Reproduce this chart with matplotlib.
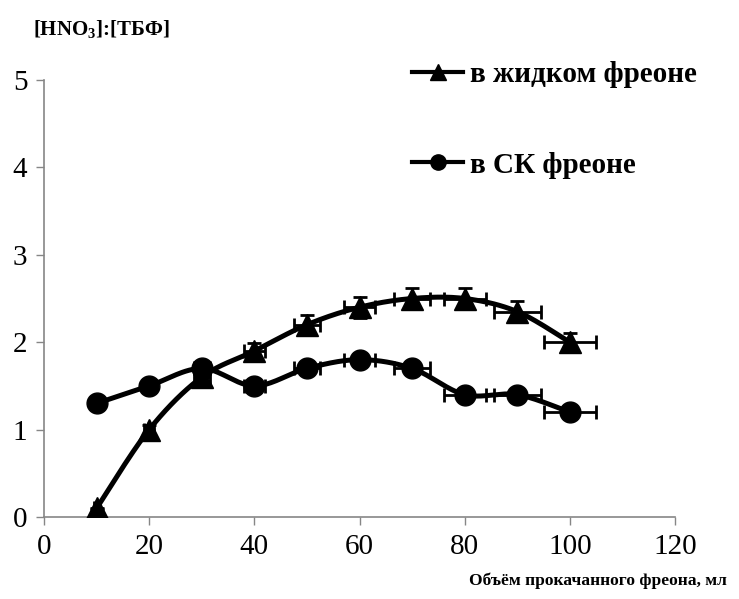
import numpy as np
import matplotlib
matplotlib.use("Agg")
import matplotlib.pyplot as plt
from matplotlib.lines import Line2D

plt.rcParams['font.family'] = ['Liberation Serif', 'DejaVu Serif']
plt.rcParams['mathtext.fontset'] = 'custom'
plt.rcParams['mathtext.rm'] = 'Liberation Serif'
plt.rcParams['mathtext.bf'] = 'Liberation Serif:bold'

# volume of pumped freon, ml
volume = [10, 20, 30, 40, 50, 60, 70, 80, 90, 100]
# liquid freon
liquid = [0.1, 1.0, 1.6, 1.9, 2.2, 2.4, 2.5, 2.5, 2.35, 2.0]
liquid_yerr = [0.005, 0.05, 0.08, 0.095, 0.11, 0.12, 0.125, 0.125, 0.12, 0.1]
# supercritical freon
sc = [1.3, 1.5, 1.7, 1.5, 1.7, 1.8, 1.7, 1.4, 1.4, 1.2]
vol_err = [0.5, 1.0, 1.5, 2.0, 2.5, 3.0, 3.5, 4.0, 4.5, 5.0]

lab_liq = "в жидком фреоне"
lab_sc = "в СК фреоне"


def smooth(x, y, n=30):
    # catmull-rom, like excel smoothed line
    p = np.column_stack([x, y]).astype(float)
    p = np.vstack([p[0], p, p[-1]])
    t = np.linspace(0, 1, n)[:, None]
    seg = []
    for i in range(1, len(p) - 2):
        p0, p1, p2, p3 = p[i - 1], p[i], p[i + 1], p[i + 2]
        c = 0.5 * (2 * p1 + (p2 - p0) * t + (2 * p0 - 5 * p1 + 4 * p2 - p3) * t ** 2
                   + (-p0 + 3 * p1 - 3 * p2 + p3) * t ** 3)
        seg.append(c if i == 1 else c[1:])
    c = np.vstack(seg)
    return c[:, 0], c[:, 1]


fig = plt.figure(figsize=(7.39, 5.99), dpi=100)
ax = fig.add_axes([44 / 739, 82 / 599, 631 / 739, 437 / 599])

ax.errorbar(volume, liquid, xerr=vol_err, yerr=liquid_yerr, fmt='none', ecolor='black',
            elinewidth=2, capsize=5, capthick=2, zorder=2)
ax.errorbar(volume, sc, xerr=vol_err, fmt='none', ecolor='black',
            elinewidth=2, capsize=5, capthick=2, zorder=2)

sx, sy = smooth(volume, liquid)
ax.plot(sx, sy, color='black', lw=3.6, zorder=3)
ax.plot(volume, liquid, ls='none', marker='^', ms=16, color='black', zorder=4)
sx, sy = smooth(volume, sc)
ax.plot(sx, sy, color='black', lw=3.6, zorder=3)
ax.plot(volume, sc, ls='none', marker='o', ms=15, color='black', zorder=4)

ax.set_xlim(0, 120)
ax.set_ylim(0, 5)
ax.set_xticks(range(0, 121, 20))
ax.set_yticks(range(0, 6))
for s in ['top', 'right']:
    ax.spines[s].set_visible(False)
for s in ['left', 'bottom']:
    ax.spines[s].set_color('#868686')
    ax.spines[s].set_linewidth(1.2)
ax.tick_params(direction='out', length=6, width=1, color='#868686', labelsize=21, pad=6)
ax.patch.set_alpha(0)

handles = [Line2D([], [], color='black', lw=3, marker='^', ms=11),
           Line2D([], [], color='black', lw=3, marker='o', ms=11)]
fig.legend(handles, [lab_liq, lab_sc], loc='upper left', bbox_to_anchor=(0.538, 0.922),
           frameon=False, prop={'weight': 'bold', 'size': 21}, handlelength=1.75,
           handletextpad=0.25, labelspacing=2.17, borderpad=0)

fig.text(33 / 739, 1 - 30 / 599, "[HNO$_\\mathbf{3}$]:[ТБФ]", fontsize=15, fontweight='bold',
         va='center', ha='left')
fig.text(727 / 739, 1 - 581 / 599, "Объём прокачанного фреона, мл", fontsize=12.6,
         fontweight='bold', va='center', ha='right')

fig.savefig("out.png", dpi=100)
